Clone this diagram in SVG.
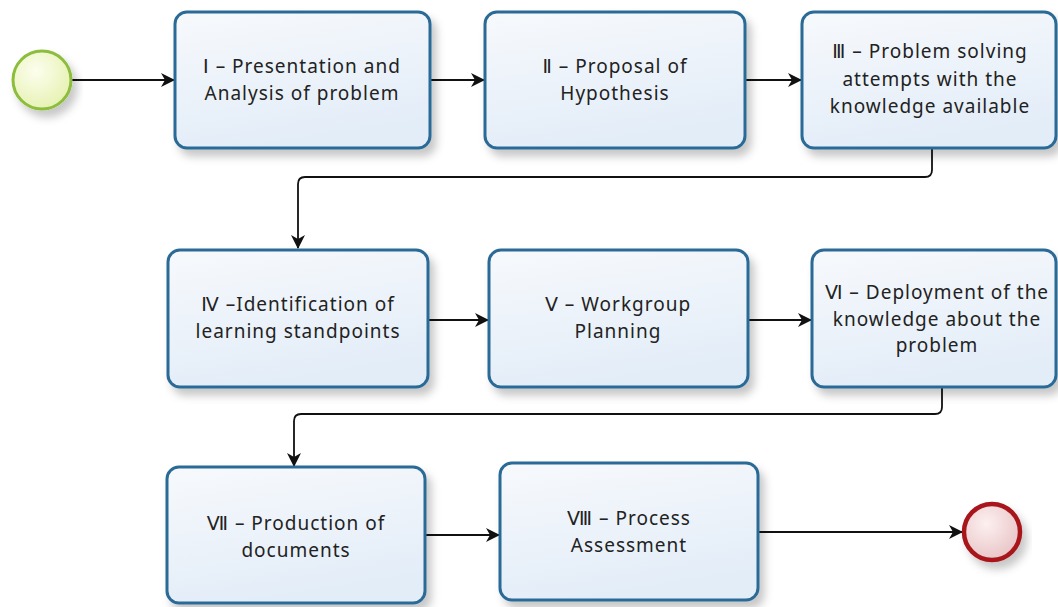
<svg xmlns="http://www.w3.org/2000/svg" width="1058" height="607" viewBox="0 0 1058 607">
<style>
.box{fill:url(#boxFill);stroke:#2b6a96;stroke-width:3;filter:url(#shadow)}
.lbl{font-family:"Noto Sans","DejaVu Sans",sans-serif;font-size:19px;letter-spacing:1px;fill:#222;text-anchor:middle}
.conn{fill:none;stroke:#111;stroke-width:1.8;marker-end:url(#arrow)}
</style>
<defs>
<linearGradient id="boxFill" x1="0" y1="0" x2="0.3" y2="1">
<stop offset="0" stop-color="#f7f9fc"/>
<stop offset="1" stop-color="#e3edf8"/>
</linearGradient>
<radialGradient id="startFill" cx="0.4" cy="0.35" r="0.7">
<stop offset="0" stop-color="#fdfeee"/>
<stop offset="1" stop-color="#e5f1b0"/>
</radialGradient>
<radialGradient id="endFill" cx="0.4" cy="0.35" r="0.7">
<stop offset="0" stop-color="#fdf0f0"/>
<stop offset="1" stop-color="#e8c3c5"/>
</radialGradient>
<filter id="shadow" x="-10%" y="-10%" width="130%" height="140%">
<feDropShadow dx="5" dy="7" stdDeviation="4" flood-color="#000" flood-opacity="0.22"/>
</filter>
<marker id="arrow" viewBox="0 0 14 14" refX="13" refY="7" markerWidth="14" markerHeight="14" markerUnits="userSpaceOnUse" orient="auto">
<path d="M0,0 L14,7 L0,14 L4,7 z" fill="#111"/>
</marker>
</defs>

<g id="connectors">
<path class="conn" d="M72,80 H174"/>
<path class="conn" d="M431,80 H484"/>
<path class="conn" d="M746,80 H801"/>
<path class="conn" d="M932,149 V170 Q932,177 925,177 H305 Q298,177 298,184 V248"/>
<path class="conn" d="M429,320 H488"/>
<path class="conn" d="M749,320 H811"/>
<path class="conn" d="M942,388 V407 Q942,414 935,414 H301 Q294,414 294,421 V466"/>
<path class="conn" d="M426,535 H499"/>
<path class="conn" d="M759,532 H962"/>
</g>

<g id="start">
<circle cx="42" cy="80" r="29" fill="url(#startFill)" stroke="#8dbd3c" stroke-width="3" filter="url(#shadow)"/>
</g>

<g id="task1">
<rect class="box" x="175" y="12" width="255" height="136" rx="12"/>
<text class="lbl" x="302" y="73">Ⅰ – Presentation and</text>
<text class="lbl" x="302" y="100">Analysis of problem</text>
</g>

<g id="task2">
<rect class="box" x="485" y="12" width="260" height="136" rx="12"/>
<text class="lbl" x="615" y="73">Ⅱ – Proposal of</text>
<text class="lbl" x="615" y="100">Hypothesis</text>
</g>

<g id="task3">
<rect class="box" x="802" y="12" width="254" height="136" rx="12"/>
<text class="lbl" x="930" y="58">Ⅲ – Problem solving</text>
<text class="lbl" x="930" y="86">attempts with the</text>
<text class="lbl" x="930" y="113">knowledge available</text>
</g>

<g id="task4">
<rect class="box" x="168" y="250" width="260" height="137" rx="12"/>
<text class="lbl" x="298" y="311">Ⅳ –Identification of</text>
<text class="lbl" x="298" y="338">learning standpoints</text>
</g>

<g id="task5">
<rect class="box" x="489" y="250" width="259" height="137" rx="12"/>
<text class="lbl" x="618" y="311">Ⅴ – Workgroup</text>
<text class="lbl" x="618" y="338">Planning</text>
</g>

<g id="task6">
<rect class="box" x="812" y="250" width="244" height="137" rx="12"/>
<text class="lbl" x="937" y="299">Ⅵ – Deployment of the</text>
<text class="lbl" x="937" y="326">knowledge about the</text>
<text class="lbl" x="937" y="352">problem</text>
</g>

<g id="task7">
<rect class="box" x="167" y="467" width="258" height="136" rx="12"/>
<text class="lbl" x="296" y="530">Ⅶ –  Production of</text>
<text class="lbl" x="296" y="557">documents</text>
</g>

<g id="task8">
<rect class="box" x="500" y="463" width="258" height="137" rx="12"/>
<text class="lbl" x="629" y="525">Ⅷ – Process</text>
<text class="lbl" x="629" y="552">Assessment</text>
</g>

<g id="end">
<circle cx="992" cy="532" r="28" fill="url(#endFill)" stroke="#a8191e" stroke-width="4.5" filter="url(#shadow)"/>
</g>
</svg>
